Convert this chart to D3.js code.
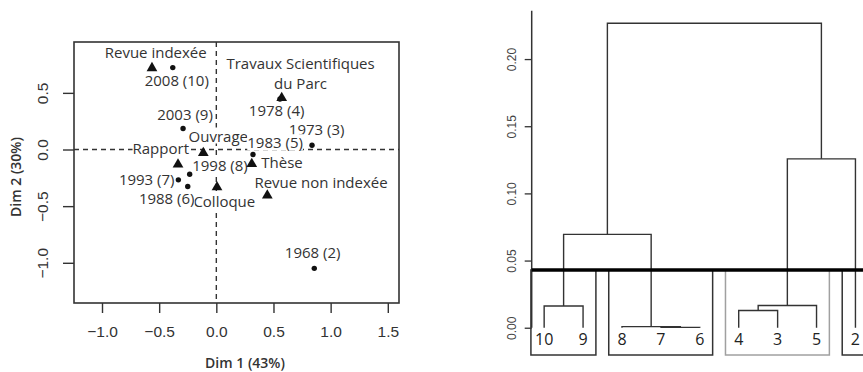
<!DOCTYPE html>
<html>
<head>
<meta charset="utf-8">
<script src="https://cdn.jsdelivr.net/npm/d3@7"></script>
<style>
  body { margin: 0; background: #fff; }
  svg { display: block; }
</style>
</head>
<body>
<div id="chart"></div>
<script>
// Factor map: modalities (triangles)
const modalities = ["Revue indexée", "Travaux Scientifiques\ndu Parc", "Rapport", "Ouvrage", "Thèse", "Colloque", "Revue non indexée"];
const modDim1 = [-0.563, 0.572, -0.335, -0.114, 0.310, 0.006, 0.446];
const modDim2 = [0.728, 0.464, -0.123, -0.021, -0.118, -0.324, -0.397];
const modLabelDim1 = [-0.530, 0.737, -0.486, 0.017, 0.575, 0.070, 0.916];
const modLabelDim2 = [0.855, 0.670, 0.009, 0.117, -0.118, -0.462, -0.295];

// Factor map: periods (dots)
const periods = ["2008 (10)", "1978 (4)", "2003 (9)", "1973 (3)", "1983 (5)", "1998 (8)", "1993 (7)", "1988 (6)", "1968 (2)"];
const perDim1 = [-0.381, 0.557, -0.291, 0.837, 0.321, -0.233, -0.332, -0.250, 0.857];
const perDim2 = [0.723, 0.446, 0.185, 0.038, -0.044, -0.218, -0.268, -0.326, -1.049];
const perLabelDim1 = [-0.346, 0.528, -0.274, 0.878, 0.514, 0.032, -0.609, -0.434, 0.843];
const perLabelDim2 = [0.605, 0.338, 0.309, 0.176, 0.058, -0.145, -0.265, -0.438, -0.908];

const dim1Ticks = [-1.0, -0.5, 0.0, 0.5, 1.0, 1.5];
const dim2Ticks = [-1.0, -0.5, 0.0, 0.5];

// Dendrogram (hclust style: negative = leaf index, positive = earlier merge)
const leafLabels = ["10", "9", "8", "7", "6", "4", "3", "5", "2"];
const mergeA = [-4, -3, -6, -1, 3, 4, 5, 6];
const mergeB = [-5, 1, -7, -2, -8, 2, -9, 7];
const mergeHeight = [0.0003, 0.0008, 0.0128, 0.0162, 0.0165, 0.0695, 0.1257, 0.2267];
const clusterSizes = [2, 3, 3, 1];
const heightTicks = [0.00, 0.05, 0.10, 0.15, 0.20];

const svg = d3.select("#chart").append("svg")
    .attr("width", 863)
    .attr("height", 372);

const ink = "#333";
const labelFont = "'Open Sans', sans-serif";
const tickFont = "'Liberation Sans', Arial, sans-serif";

// ---------- left panel: factor map ----------
const box = { left: 74, right: 399, top: 42, bottom: 303 };

const x = d3.scaleLinear().domain([-1.245, 1.598]).range([box.left, box.right]);
const y = d3.scaleLinear().domain([-1.355, 0.949]).range([box.bottom, box.top]);

const left = svg.append("g");

// zero lines
left.append("line")
    .attr("x1", box.left).attr("x2", box.right)
    .attr("y1", y(0)).attr("y2", y(0))
    .attr("stroke", ink).attr("stroke-width", 1.4).attr("stroke-dasharray", "5,4");
left.append("line")
    .attr("x1", x(0)).attr("x2", x(0))
    .attr("y1", box.top).attr("y2", box.bottom)
    .attr("stroke", ink).attr("stroke-width", 1.4).attr("stroke-dasharray", "5,4");

// axes
const xAxis = left.append("g")
    .attr("transform", `translate(0,${box.bottom})`)
    .call(d3.axisBottom(x).tickValues(dim1Ticks).tickFormat(d3.format(".1f")).tickSize(10).tickPadding(13));
const yAxis = left.append("g")
    .attr("transform", `translate(${box.left},0)`)
    .call(d3.axisLeft(y).tickValues(dim2Ticks).tickFormat(d3.format(".1f")).tickSize(11));

[xAxis, yAxis].forEach(a => {
    a.select(".domain").remove();
    a.selectAll(".tick line").attr("stroke", ink).attr("stroke-width", 1.4);
    a.selectAll("text").attr("fill", "#333").style("font-family", tickFont).style("font-size", "15.5px");
});
xAxis.selectAll("text").attr("dy", "0.71em");
yAxis.selectAll(".tick text")
    .attr("x", 0).attr("dy", null)
    .attr("text-anchor", "middle")
    .attr("dominant-baseline", "central")
    .attr("transform", "translate(-32,0) rotate(-90)");

// labels with white background
function addLabel(g, text, lx, ly) {
    const lines = text.split("\n");
    const t = g.append("text")
        .attr("text-anchor", "middle")
        .attr("fill", "#333")
        .style("font-family", labelFont)
        .style("font-size", "15px");
    const lh = 20;
    lines.forEach((ln, i) => {
        t.append("tspan")
            .attr("x", lx)
            .attr("y", ly + (i - (lines.length - 1) / 2) * lh)
            .attr("dy", "0.35em")
            .text(ln);
    });
    const bb = t.node().getBBox();
    g.insert("rect", () => t.node())
        .attr("x", bb.x).attr("y", bb.y + 2)
        .attr("width", bb.width).attr("height", bb.height - 4)
        .attr("fill", "#fff");
}

const labels = left.append("g");
modalities.forEach((m, i) => addLabel(labels, m, x(modLabelDim1[i]), y(modLabelDim2[i])));
periods.forEach((p, i) => addLabel(labels, p, x(perLabelDim1[i]), y(perLabelDim2[i])));

// markers
left.selectAll(".tri")
    .data(modalities)
    .join("path")
    .attr("class", "tri")
    .attr("d", d3.symbol().type(d3.symbolTriangle).size(50))
    .attr("transform", (d, i) => `translate(${x(modDim1[i])},${y(modDim2[i]) + 1})`)
    .attr("fill", "#111");

left.selectAll(".dot")
    .data(periods)
    .join("circle")
    .attr("class", "dot")
    .attr("cx", (d, i) => x(perDim1[i]))
    .attr("cy", (d, i) => y(perDim2[i]))
    .attr("r", 2.7)
    .attr("fill", "#111");

// frame
left.append("rect")
    .attr("x", box.left).attr("y", box.top)
    .attr("width", box.right - box.left).attr("height", box.bottom - box.top)
    .attr("fill", "none").attr("stroke", ink).attr("stroke-width", 1.6);

// axis titles
left.append("text")
    .attr("x", 245).attr("y", 363)
    .attr("dy", "0.35em")
    .attr("text-anchor", "middle")
    .attr("fill", "#333")
    .style("font-family", labelFont).style("font-size", "14px").style("font-weight", 600)
    .text("Dim 1 (43%)");
left.append("text")
    .attr("transform", "translate(16,177) rotate(-90)")
    .attr("dy", "0.35em")
    .attr("text-anchor", "middle")
    .attr("fill", "#333")
    .style("font-family", labelFont).style("font-size", "14px").style("font-weight", 600)
    .text("Dim 2 (30%)");

// ---------- right panel: dendrogram ----------
const n = leafLabels.length;
const dx = d3.scaleLinear().domain([0.68, n + 0.32]).range([531.7, 867.9]);
const dy = d3.scaleLinear().domain([-0.0203, 0.236]).range([355, 10.7]);

const right = svg.append("g");

// y axis
const hAxis = right.append("g")
    .attr("transform", `translate(${dx.range()[0]},0)`)
    .call(d3.axisLeft(dy).tickValues(heightTicks).tickFormat(d3.format(".2f")).tickSize(7));
hAxis.select(".domain").remove();
hAxis.selectAll(".tick line").attr("stroke", ink).attr("stroke-width", 1.3);
hAxis.selectAll(".tick text")
    .attr("x", 0).attr("dy", null)
    .attr("text-anchor", "middle")
    .attr("dominant-baseline", "central")
    .attr("transform", "translate(-20,0) rotate(-90)")
    .attr("fill", "#444")
    .style("font-family", tickFont).style("font-size", "12px");
right.append("line")
    .attr("x1", dx.range()[0]).attr("x2", dx.range()[0])
    .attr("y1", dy.range()[1]).attr("y2", dy(0))
    .attr("stroke", ink).attr("stroke-width", 1.5);

// merges
const nodeX = [];
function pos(id) {
    return id < 0 ? { x: dx(-id), h: 0 } : { x: nodeX[id - 1], h: mergeHeight[id - 1] };
}
const links = mergeHeight.map((h, i) => {
    const a = pos(mergeA[i]), b = pos(mergeB[i]);
    nodeX[i] = (a.x + b.x) / 2;
    return `M${a.x},${dy(a.h)}V${dy(h)}H${b.x}V${dy(b.h)}`;
});
right.selectAll(".link")
    .data(links)
    .join("path")
    .attr("class", "link")
    .attr("d", d => d)
    .attr("fill", "none")
    .attr("stroke", ink)
    .attr("stroke-width", 1.4);

// leaf labels
right.selectAll(".leaf")
    .data(leafLabels)
    .join("text")
    .attr("class", "leaf")
    .attr("x", (d, i) => dx(i + 1))
    .attr("y", dy(0) + 12)
    .attr("dy", "0.35em")
    .attr("text-anchor", "middle")
    .attr("fill", "#222")
    .style("font-family", labelFont).style("font-size", "16px")
    .text(d => d);

// cluster rectangles (rect.hclust style)
const sorted = mergeHeight.slice().sort((a, b) => b - a);
const k = clusterSizes.length;
const cut = (sorted[k - 2] + sorted[k - 1]) / 2;
const bounds = [0, ...Array.from(d3.cumsum(clusterSizes))];
const boxColors = [ink, ink, "#a0a0a0", ink];
right.selectAll(".clus")
    .data(clusterSizes)
    .join("rect")
    .attr("class", "clus")
    .attr("x", (d, i) => dx(bounds[i] + 0.66))
    .attr("y", dy(cut))
    .attr("width", (d, i) => dx(bounds[i + 1] + 0.33) - dx(bounds[i] + 0.66))
    .attr("height", dy(dy.domain()[0]) - dy(cut))
    .attr("fill", "none")
    .attr("stroke", (d, i) => boxColors[i])
    .attr("stroke-width", 1.5);

// cut line
right.append("line")
    .attr("x1", dx.range()[0]).attr("x2", 863)
    .attr("y1", dy(cut)).attr("y2", dy(cut))
    .attr("stroke", "#000").attr("stroke-width", 3.5);
</script>
</body>
</html>
